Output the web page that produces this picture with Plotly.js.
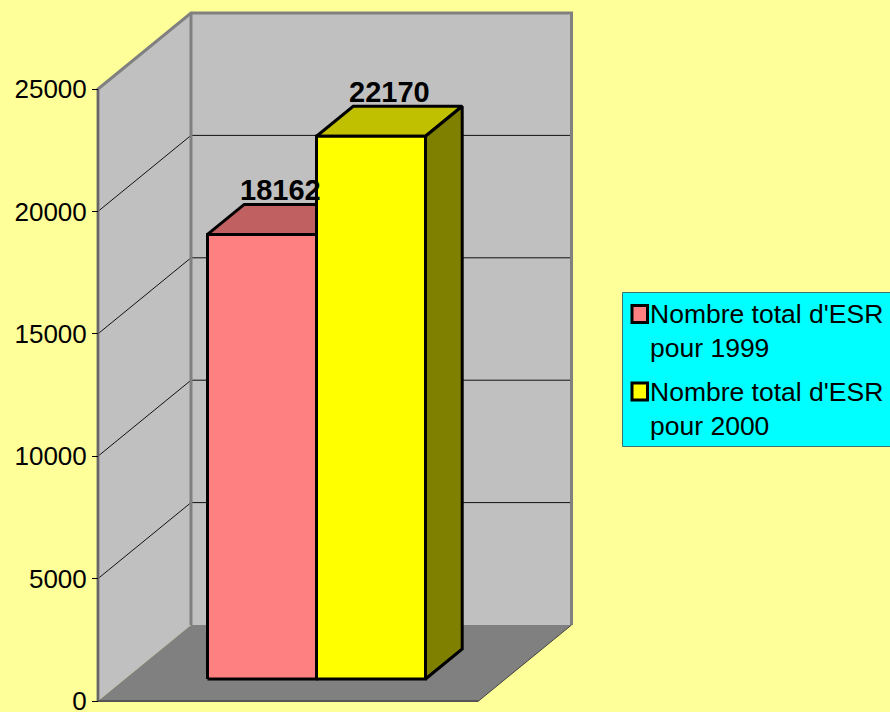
<!DOCTYPE html>
<html>
<head>
<meta charset="utf-8">
<script src="https://cdn.plot.ly/plotly-3.0.1.min.js"></script>
<style>html,body{margin:0;padding:0;background:#FFFF99;overflow:hidden}#chart{width:890px;height:712px}</style>
</head>
<body>
<div id="chart"></div>
<script>
// Data
const seriesNames = ["Nombre total d'ESR<br>pour 1999", "Nombre total d'ESR<br>pour 2000"];
const seriesValues = [18162, 22170];
const frontColors = ["#FF8080", "#FFFF00"];
const topColors = ["#C06060", "#C0C000"];
const sideColors = ["#804040", "#808000"];
const yTicks = [0, 5000, 10000, 15000, 20000, 25000];

// Oblique projection settings: the axis carries the value scale
const W = 890, H = 712;
const zeroPx = 701, pxPerUnit = 612 / 25000;
const depthX = 93, depthY = 76 / pxPerUnit;
const wallLeft = 98, wallRight = 478.5;
const barD0 = 22 / 76, barD1 = 52 / 76;
const barWidth = 109;
const barStart = 207.5 - barD0 * depthX;
const P = (x, d, v) => [x + d * depthX, v + d * depthY];

function poly(points, fill, line, name) {
  const t = {
    x: points.map(p => p[0]), y: points.map(p => p[1]),
    type: 'scatter', mode: line ? 'lines' : 'none',
    fill: 'toself', fillcolor: fill, hoverinfo: 'skip', showlegend: false
  };
  if (line) t.line = line;
  if (name) t.name = name;
  return t;
}
function path(points, color, width) {
  return {
    x: points.map(p => p ? p[0] : null), y: points.map(p => p ? p[1] : null),
    type: 'scatter', mode: 'lines', line: {color, width},
    hoverinfo: 'skip', showlegend: false
  };
}

const maxV = yTicks[yTicks.length - 1];
const traces = [];
// walls and floor
traces.push(poly([P(wallLeft,0,0),P(wallLeft,1,0),P(wallLeft,1,maxV),P(wallLeft,0,maxV),P(wallLeft,0,0)], '#C0C0C0'));
traces.push(poly([P(wallLeft,1,0),P(wallRight,1,0),P(wallRight,1,maxV),P(wallLeft,1,maxV),P(wallLeft,1,0)], '#C0C0C0'));
traces.push(poly([P(wallLeft,0,0),P(wallRight,0,0),P(wallRight,1,0),P(wallLeft,1,0),P(wallLeft,0,0)], '#808080'));
// gridlines
const grid = [];
yTicks.slice(1, -1).forEach(v => { grid.push(P(wallLeft,0,v), P(wallLeft,1,v), P(wallRight,1,v), null); });
traces.push(path(grid, '#111111', 1));
// wall borders
traces.push(path([P(wallLeft,0,0),P(wallLeft,0,maxV),P(wallLeft,1,maxV),P(wallRight,1,maxV),P(wallRight,1,0)], '#808080', 3));
traces.push(path([P(wallLeft,1,0),P(wallLeft,1,maxV)], '#808080', 3));
traces.push(path([P(wallLeft,0,0),P(wallLeft,0,maxV)], '#666666', 2));
traces.push(path([P(wallLeft,0,0),P(wallRight,0,0)], '#555555', 2));
traces.push(path([P(wallRight,0,0),P(wallRight,1,0)], '#444444', 1));

// bars
const edge = {color: '#000000', width: 3};
seriesValues.forEach((v, i) => {
  const a = barStart + i * barWidth, b = a + barWidth;
  traces.push(poly([P(a,barD0,v),P(b,barD0,v),P(b,barD1,v),P(a,barD1,v),P(a,barD0,v)], topColors[i], edge));
  traces.push(poly([P(b,barD0,0),P(b,barD1,0),P(b,barD1,v),P(b,barD0,v),P(b,barD0,0)], sideColors[i], edge));
  traces.push(poly([P(a,barD0,0),P(b,barD0,0),P(b,barD0,v),P(a,barD0,v),P(a,barD0,0)], frontColors[i], edge, seriesNames[i]));
});

// value labels
const annotations = seriesValues.map((v, i) => {
  const p = P(barStart + i * barWidth + barWidth / 2, (barD0 + barD1) / 2, v);
  return {x: p[0], y: p[1], xref: 'x', yref: 'y', showarrow: false,
    yshift: 29.5, xanchor: 'center', yanchor: 'middle',
    font: {family: 'Liberation Sans, Arial, sans-serif', size: 29, color: '#000000'},
    text: '<b>' + v + '</b>'};
});

// legend box
const px = x => x / W, py = y => 1 - y / H;
const legendBox = {left: 622.5, right: 893, top: 292.5, bottom: 446.5};
const shapes = [{type: 'rect', xref: 'paper', yref: 'paper',
  x0: px(legendBox.left), x1: px(legendBox.right), y0: py(legendBox.top), y1: py(legendBox.bottom),
  fillcolor: '#00FFFF', line: {color: '#3F6F6F', width: 1}}];
const legendRowY = [314, 391.5];
seriesNames.forEach((name, i) => {
  const c = legendRowY[i];
  shapes.push({type: 'rect', xref: 'paper', yref: 'paper',
    x0: px(632), x1: px(647.5), y0: py(c - 8.5), y1: py(c + 8.5),
    fillcolor: frontColors[i], line: {color: '#000000', width: 3}});
  annotations.push({xref: 'paper', yref: 'paper', x: px(649), y: py(c - 16), xanchor: 'left', yanchor: 'top',
    align: 'left', showarrow: false, text: name, borderpad: 0,
    font: {family: 'Liberation Sans, Arial, sans-serif', size: 26.5, color: '#000000'}});
});

const layout = {
  width: W, height: H,
  margin: {l: 0, r: 0, t: 0, b: 0, pad: 0},
  paper_bgcolor: '#FFFF99', plot_bgcolor: 'rgba(0,0,0,0)',
  showlegend: false,
  xaxis: {range: [0, W], visible: false, fixedrange: true, domain: [0, 1]},
  yaxis: {
    range: [(zeroPx - H) / pxPerUnit, zeroPx / pxPerUnit],
    domain: [0, 1], anchor: 'free', position: wallLeft / W, side: 'left',
    tickmode: 'array', tickvals: yTicks, ticktext: yTicks.map(String),
    ticks: 'outside', ticklen: 6, tickwidth: 1, tickcolor: '#000000',
    ticklabeloverflow: 'allow',
    showgrid: false, zeroline: false, showline: false, fixedrange: true,
    tickfont: {family: 'Liberation Sans, Arial, sans-serif', size: 26, color: '#000000'}
  },
  shapes, annotations
};
Plotly.newPlot('chart', traces, layout, {displayModeBar: false, staticPlot: true});
</script>
</body>
</html>
